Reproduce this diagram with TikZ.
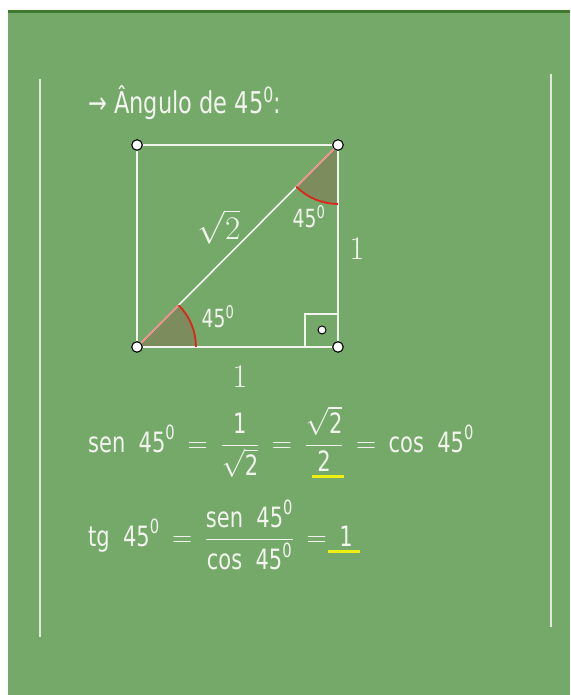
\RequirePackage{fix-cm}
\documentclass[tikz,border=0pt]{standalone}
\usepackage{amsmath}
\usepackage{fontspec}
\setmainfont[FakeStretch=0.75]{DejaVu Sans}
\usetikzlibrary{calc}
\definecolor{boardbg}{HTML}{75A96A}
\definecolor{boardtop}{HTML}{3E7A2E}
\definecolor{chalk}{HTML}{F2F4EE}
\definecolor{sectorbg}{HTML}{7C8C5C}
\definecolor{anglered}{HTML}{E0241C}
\definecolor{markyel}{HTML}{EEEE10}
\newcommand{\grau}{\textsuperscript{0}}
\newcommand{\sgrau}{^{\text{0}}}
\newcommand{\igual}{\,=\,}
\tikzset{
  chalkline/.style={draw=chalk,line width=1.6pt},
  boardedge/.style={draw=chalk!85!boardbg,line width=2.6pt},
  vertex/.style={circle,draw=black,fill=white,line width=1.1pt,inner sep=0pt,minimum size=10.5pt},
  anglab/.style={text=chalk,font=\fontsize{25}{30}\selectfont,inner sep=0pt},
  sidelab/.style={text=chalk,font=\fontsize{33}{39}\selectfont,inner sep=0pt},
  eqtext/.style={text=chalk,font=\fontsize{28}{33}\selectfont,inner sep=0pt,anchor=west},
  underl/.style={draw=markyel,line width=3pt},
}
\begin{document}
\begin{tikzpicture}[x=1pt,y=1pt]
  \useasboundingbox (0,0) rectangle (570,695);
  % board
  \fill[boardbg] (8,0) rectangle (570,683);
  \draw[boardtop,line width=3pt] (8,683) -- (570,683);
  \draw[boardedge] (40,616) -- (40,58);
  \draw[boardedge] (551,621) -- (551,68);
  % square corners
  \coordinate (a) at (137,348);
  \coordinate (b) at (338,348);
  \coordinate (c) at (338,550);
  \coordinate (d) at (137,550);
  % 45 degree sectors
  \fill[sectorbg] (a) -- ($(a)+(0:59pt)$) arc[start angle=0,end angle=45,radius=59pt] -- cycle;
  \fill[sectorbg] (c) -- ($(c)+(225:59pt)$) arc[start angle=225,end angle=270,radius=59pt] -- cycle;
  % right angle mark
  \draw[chalk,line width=1.3pt] ($(b)+(-33,0)$) |- ($(b)+(0,33)$);
  \node[vertex,minimum size=8pt,line width=1pt] (rdot) at (322,365) {};
  \node[vertex] (A) at (a) {};
  \node[vertex] (B) at (b) {};
  \node[vertex] (C) at (c) {};
  \node[vertex] (D) at (d) {};
  \draw[chalkline] (A) -- (B);
  \draw[chalkline] (B) -- (C);
  \draw[chalkline] (C) -- (D);
  \draw[chalkline] (D) -- (A);
  \draw[chalkline] (A) -- (C);
  % red marks
  \draw[anglered!55!white,line width=1.6pt] (A) -- ($(a)!59pt!(c)$);
  \draw[anglered!55!white,line width=1.6pt] (C) -- ($(c)!59pt!(a)$);
  \draw[anglered,line width=1.8pt] ($(a)+(0:59pt)$) arc[start angle=0,end angle=45,radius=59pt];
  \draw[anglered,line width=1.8pt] ($(c)+(225:59pt)$) arc[start angle=225,end angle=270,radius=59pt];
  % labels
  \node[anglab] (angA) at (218,378) {45\grau};
  \node[anglab] (angC) at (309,478) {45\grau};
  \node[sidelab] (diag) at (219,468) {$\sqrt{2}$};
  \node[sidelab] (sideBC) at (357,446) {$1$};
  \node[sidelab] (sideAB) at (240,318) {$1$};
  \node[eqtext,font=\fontsize{30}{36}\selectfont] (title) at (88,592) {→ Ângulo de 45\grau:};
  \node[eqtext] (sen) at (88,253)
    {$\text{sen\ \ 45}\sgrau \igual \dfrac{\text{1}}{\sqrt{\text{2}}} \igual \dfrac{\sqrt{\text{2}}}{\text{2}} \igual \text{cos\ \ 45}\sgrau$};
  \node[eqtext] (tg) at (88,160)
    {$\text{tg\ \ 45}\sgrau \igual \dfrac{\text{sen\ \ 45}\sgrau}{\text{cos\ \ 45}\sgrau} \igual \text{1}$};
  \draw[underl] (312,218) -- (344,218);
  \draw[underl] (328,143) -- (360,143);
\end{tikzpicture}
\end{document}
